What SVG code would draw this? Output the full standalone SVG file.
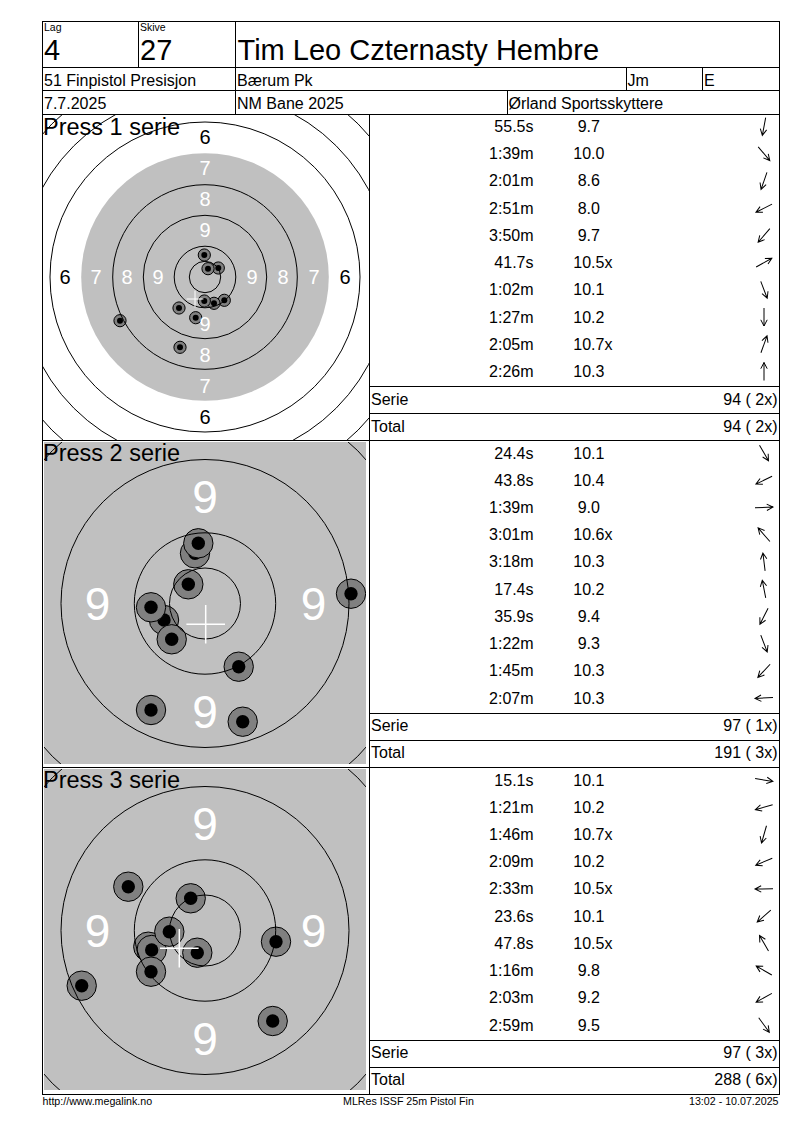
<svg xmlns="http://www.w3.org/2000/svg" xmlns:xlink="http://www.w3.org/1999/xlink" width="800" height="1130" viewBox="0 0 800 1130">
<style>
text{font-family:"Liberation Sans",Arial,sans-serif;fill:#000}
.t16{font-size:16px}
.sm{font-size:10.5px}
.ft{font-size:10.67px}
.big{font-size:29px}
.ttl{font-size:23.5px}
.l1{font-size:20px;text-anchor:middle}
.l2{font-size:46px;text-anchor:middle}
.w{fill:#fff}
.end{text-anchor:end}
.grid{stroke:#000;stroke-width:1;fill:none}
.ring{fill:none;stroke:#000;stroke-width:1}
.sh{fill:#808080;stroke:#000;stroke-width:1}
.cr{stroke:#fff;fill:none}
.arr{fill:none;stroke:#000;stroke-width:1}
</style>
<defs>
<path id="ar" d="M-9,0H9M2.8,-3.2L9,0L2.8,3.2"/>
<g id="s1"><circle r="6.1" class="sh"/><circle r="3" fill="#000"/></g>
<g id="s2"><circle r="14.7" class="sh"/><circle r="6.7" fill="#000"/></g>
<clipPath id="c1"><rect x="43" y="115" width="326" height="325"/></clipPath>
<clipPath id="c2"><rect x="44" y="442" width="322" height="322"/></clipPath>
<clipPath id="c3"><rect x="44" y="769" width="322" height="321"/></clipPath>
</defs>
<rect width="800" height="1130" fill="#fff"/>

<g id="target1" clip-path="url(#c1)">
<circle cx="205" cy="277" r="123.8" fill="#c0c0c0"/>
<use xlink:href="#s1" x="195.7" y="317.7"/>
<use xlink:href="#s1" x="224.3" y="300.3"/>
<use xlink:href="#s1" x="180" y="347.3"/>
<use xlink:href="#s1" x="120" y="320.7"/>
<use xlink:href="#s1" x="179" y="308"/>
<use xlink:href="#s1" x="218.3" y="268"/>
<use xlink:href="#s1" x="214" y="303.3"/>
<use xlink:href="#s1" x="204.3" y="301"/>
<use xlink:href="#s1" x="208" y="268.7"/>
<use xlink:href="#s1" x="204.3" y="255"/>
<g class="ring">
<circle cx="205" cy="277" r="15.7"/><circle cx="205" cy="277" r="30.8"/><circle cx="205" cy="277" r="61.7"/><circle cx="205" cy="277" r="92.3"/>
<circle cx="205" cy="277" r="155"/><circle cx="205" cy="277" r="185.5"/><circle cx="205" cy="277" r="216.5"/>
</g>
<text class="l1" x="205" y="144.2">6</text>
<text class="l1 w" x="205" y="175.2">7</text>
<text class="l1 w" x="205" y="206.2">8</text>
<text class="l1 w" x="205" y="237.2">9</text>
<text class="l1 w" x="205" y="331.2">9</text>
<text class="l1 w" x="205" y="362.2">8</text>
<text class="l1 w" x="205" y="393.2">7</text>
<text class="l1" x="205" y="424.2">6</text>
<text class="l1" x="65" y="284.2">6</text>
<text class="l1 w" x="96" y="284.2">7</text>
<text class="l1 w" x="127" y="284.2">8</text>
<text class="l1 w" x="158" y="284.2">9</text>
<text class="l1 w" x="252" y="284.2">9</text>
<text class="l1 w" x="283" y="284.2">8</text>
<text class="l1 w" x="314" y="284.2">7</text>
<text class="l1" x="345" y="284.2">6</text>
<path class="cr" stroke-width="1" d="M186.6,299H203.4M195,290.6V307.4"/>
<text class="ttl" x="43" y="135">Press 1 serie</text>
</g>

<g id="target2" clip-path="url(#c2)">
<rect x="44" y="442" width="322" height="322" fill="#c0c0c0"/>
<use xlink:href="#s2" x="238.7" y="666.7"/>
<use xlink:href="#s2" x="164" y="620"/>
<use xlink:href="#s2" x="351" y="593.7"/>
<use xlink:href="#s2" x="188.3" y="584.3"/>
<use xlink:href="#s2" x="195" y="553.3"/>
<use xlink:href="#s2" x="198.3" y="543.3"/>
<use xlink:href="#s2" x="151" y="710"/>
<use xlink:href="#s2" x="242.7" y="721.7"/>
<use xlink:href="#s2" x="171.7" y="639.3"/>
<use xlink:href="#s2" x="151" y="607.3"/>
<g class="ring">
<circle cx="205" cy="603.5" r="35.5"/><circle cx="205" cy="603.5" r="70.7"/><circle cx="205" cy="603.5" r="144"/><circle cx="205" cy="603.5" r="216"/>
</g>
<text class="l2 w" x="205" y="512.5">9</text>
<text class="l2 w" x="205" y="727.5">9</text>
<text class="l2 w" x="97.5" y="620">9</text>
<text class="l2 w" x="313.5" y="620">9</text>
<path class="cr" stroke-width="1.5" d="M186.4,624.3H225M205.7,605V643.6"/>
<text class="ttl" x="43" y="461">Press 2 serie</text>
</g>

<g id="target3" clip-path="url(#c3)">
<rect x="44" y="769" width="322" height="321" fill="#c0c0c0"/>
<use xlink:href="#s2" x="276" y="941.7"/>
<use xlink:href="#s2" x="148.3" y="946.7"/>
<use xlink:href="#s2" x="197.3" y="952.7"/>
<use xlink:href="#s2" x="151.7" y="950"/>
<use xlink:href="#s2" x="169.3" y="931.7"/>
<use xlink:href="#s2" x="151" y="971.7"/>
<use xlink:href="#s2" x="190.7" y="898.3"/>
<use xlink:href="#s2" x="128.3" y="886.7"/>
<use xlink:href="#s2" x="81.7" y="985.7"/>
<use xlink:href="#s2" x="272.7" y="1021"/>
<g class="ring">
<circle cx="205" cy="930.5" r="35.5"/><circle cx="205" cy="930.5" r="70.7"/><circle cx="205" cy="930.5" r="144"/><circle cx="205" cy="930.5" r="216"/>
</g>
<text class="l2 w" x="205" y="839.5">9</text>
<text class="l2 w" x="205" y="1054.5">9</text>
<text class="l2 w" x="97.5" y="947">9</text>
<text class="l2 w" x="313.5" y="947">9</text>
<path class="cr" stroke-width="1.5" d="M160,948.3H198.6M179.3,929V967.6"/>
<text class="ttl" x="43" y="787.5">Press 3 serie</text>
</g>

<g id="header">
<text class="sm" x="44" y="31">Lag</text>
<text class="big" x="44" y="60">4</text>
<text class="sm" x="140" y="31">Skive</text>
<text class="big" x="140" y="60">27</text>
<text class="big" x="237.5" y="60">Tim Leo Czternasty Hembre</text>
<text class="t16" x="44" y="86">51 Finpistol Presisjon</text>
<text class="t16" x="237" y="86">Bærum Pk</text>
<text class="t16" x="627.5" y="86">Jm</text>
<text class="t16" x="704" y="86">E</text>
<text class="t16" x="44" y="109.3">7.7.2025</text>
<text class="t16" x="237" y="109.3">NM Bane 2025</text>
<text class="t16" x="508.5" y="109.3">Ørland Sportsskyttere</text>
</g>

<g id="table1" class="t16">
<text class="t16 end" x="533.5" y="132">55.5s</text><text class="t16" x="577.7" y="132">9.7</text>
<text class="t16 end" x="533.5" y="159.2">1:39m</text><text class="t16" x="573.3" y="159.2">10.0</text>
<text class="t16 end" x="533.5" y="186.4">2:01m</text><text class="t16" x="577.7" y="186.4">8.6</text>
<text class="t16 end" x="533.5" y="213.7">2:51m</text><text class="t16" x="577.7" y="213.7">8.0</text>
<text class="t16 end" x="533.5" y="240.9">3:50m</text><text class="t16" x="577.7" y="240.9">9.7</text>
<text class="t16 end" x="533.5" y="268.1">41.7s</text><text class="t16" x="573.3" y="268.1">10.5x</text>
<text class="t16 end" x="533.5" y="295.3">1:02m</text><text class="t16" x="573.3" y="295.3">10.1</text>
<text class="t16 end" x="533.5" y="322.5">1:27m</text><text class="t16" x="573.3" y="322.5">10.2</text>
<text class="t16 end" x="533.5" y="349.8">2:05m</text><text class="t16" x="573.3" y="349.8">10.7x</text>
<text class="t16 end" x="533.5" y="377">2:26m</text><text class="t16" x="573.3" y="377">10.3</text>
<text class="t16" x="371" y="405">Serie</text><text class="t16 end" x="777.5" y="405">94 ( 2x)</text>
<text class="t16" x="371" y="432">Total</text><text class="t16 end" x="777.5" y="432">94 ( 2x)</text>
</g>

<g id="table2">
<text class="t16 end" x="533.5" y="458.5">24.4s</text><text class="t16" x="573.3" y="458.5">10.1</text>
<text class="t16 end" x="533.5" y="485.7">43.8s</text><text class="t16" x="573.3" y="485.7">10.4</text>
<text class="t16 end" x="533.5" y="512.9">1:39m</text><text class="t16" x="577.7" y="512.9">9.0</text>
<text class="t16 end" x="533.5" y="540.2">3:01m</text><text class="t16" x="573.3" y="540.2">10.6x</text>
<text class="t16 end" x="533.5" y="567.4">3:18m</text><text class="t16" x="573.3" y="567.4">10.3</text>
<text class="t16 end" x="533.5" y="594.6">17.4s</text><text class="t16" x="573.3" y="594.6">10.2</text>
<text class="t16 end" x="533.5" y="621.8">35.9s</text><text class="t16" x="577.7" y="621.8">9.4</text>
<text class="t16 end" x="533.5" y="649">1:22m</text><text class="t16" x="577.7" y="649">9.3</text>
<text class="t16 end" x="533.5" y="676.3">1:45m</text><text class="t16" x="573.3" y="676.3">10.3</text>
<text class="t16 end" x="533.5" y="703.5">2:07m</text><text class="t16" x="573.3" y="703.5">10.3</text>
<text class="t16" x="371" y="731">Serie</text><text class="t16 end" x="777.5" y="731">97 ( 1x)</text>
<text class="t16" x="371" y="758">Total</text><text class="t16 end" x="777.5" y="758">191 ( 3x)</text>
</g>

<g id="table3">
<text class="t16 end" x="533.5" y="785.5">15.1s</text><text class="t16" x="573.3" y="785.5">10.1</text>
<text class="t16 end" x="533.5" y="812.7">1:21m</text><text class="t16" x="573.3" y="812.7">10.2</text>
<text class="t16 end" x="533.5" y="839.9">1:46m</text><text class="t16" x="573.3" y="839.9">10.7x</text>
<text class="t16 end" x="533.5" y="867.2">2:09m</text><text class="t16" x="573.3" y="867.2">10.2</text>
<text class="t16 end" x="533.5" y="894.4">2:33m</text><text class="t16" x="573.3" y="894.4">10.5x</text>
<text class="t16 end" x="533.5" y="921.6">23.6s</text><text class="t16" x="573.3" y="921.6">10.1</text>
<text class="t16 end" x="533.5" y="948.8">47.8s</text><text class="t16" x="573.3" y="948.8">10.5x</text>
<text class="t16 end" x="533.5" y="976">1:16m</text><text class="t16" x="577.7" y="976">9.8</text>
<text class="t16 end" x="533.5" y="1003.3">2:03m</text><text class="t16" x="577.7" y="1003.3">9.2</text>
<text class="t16 end" x="533.5" y="1030.5">2:59m</text><text class="t16" x="577.7" y="1030.5">9.5</text>
<text class="t16" x="371" y="1058">Serie</text><text class="t16 end" x="777.5" y="1058">97 ( 3x)</text>
<text class="t16" x="371" y="1085">Total</text><text class="t16 end" x="777.5" y="1085">288 ( 6x)</text>
</g>

<g id="arrows" class="arr">
<use xlink:href="#ar" transform="translate(764,126.5) rotate(100.7)"/>
<use xlink:href="#ar" transform="translate(764,153.7) rotate(49.8)"/>
<use xlink:href="#ar" transform="translate(764,180.9) rotate(109.1)"/>
<use xlink:href="#ar" transform="translate(764,208.2) rotate(153.4)"/>
<use xlink:href="#ar" transform="translate(764,235.4) rotate(130.6)"/>
<use xlink:href="#ar" transform="translate(764,262.6) rotate(-29.2)"/>
<use xlink:href="#ar" transform="translate(764,289.8) rotate(69)"/>
<use xlink:href="#ar" transform="translate(764,317) rotate(90)"/>
<use xlink:href="#ar" transform="translate(764,344.3) rotate(-70.2)"/>
<use xlink:href="#ar" transform="translate(764,371.5) rotate(-90)"/>
<use xlink:href="#ar" transform="translate(764,453) rotate(60)"/>
<use xlink:href="#ar" transform="translate(764,480.2) rotate(154)"/>
<use xlink:href="#ar" transform="translate(764,507.4) rotate(-2)"/>
<use xlink:href="#ar" transform="translate(764,534.7) rotate(-131)"/>
<use xlink:href="#ar" transform="translate(764,561.9) rotate(-97)"/>
<use xlink:href="#ar" transform="translate(764,589.1) rotate(-101)"/>
<use xlink:href="#ar" transform="translate(764,616.3) rotate(117)"/>
<use xlink:href="#ar" transform="translate(764,643.5) rotate(69)"/>
<use xlink:href="#ar" transform="translate(764,670.8) rotate(133)"/>
<use xlink:href="#ar" transform="translate(764,698) rotate(176.5)"/>
<use xlink:href="#ar" transform="translate(764,780) rotate(9)"/>
<use xlink:href="#ar" transform="translate(764,807.2) rotate(164)"/>
<use xlink:href="#ar" transform="translate(764,834.4) rotate(106)"/>
<use xlink:href="#ar" transform="translate(764,861.7) rotate(157)"/>
<use xlink:href="#ar" transform="translate(764,888.9) rotate(179)"/>
<use xlink:href="#ar" transform="translate(764,916.1) rotate(139)"/>
<use xlink:href="#ar" transform="translate(764,943.3) rotate(-120)"/>
<use xlink:href="#ar" transform="translate(764,970.5) rotate(-150)"/>
<use xlink:href="#ar" transform="translate(764,997.8) rotate(151)"/>
<use xlink:href="#ar" transform="translate(764,1025) rotate(54)"/>
</g>

<g id="grid" class="grid">
<rect x="42.5" y="21.5" width="737" height="1073"/>
<path d="M42.5,67.5H779.5M42.5,90.5H779.5M42.5,114.5H779.5M42.5,440.5H779.5M42.5,767.5H779.5"/>
<path d="M138.5,21.5V67.5M235.5,21.5V114.5M626.5,67.5V90.5M702.5,67.5V90.5M507.5,90.5V114.5M369.5,114.5V1094.5"/>
<path d="M369.5,386.5H779.5M369.5,413.5H779.5M369.5,713.5H779.5M369.5,740.5H779.5M369.5,1040.5H779.5M369.5,1067.5H779.5"/>
</g>

<g id="footer">
<text class="ft" x="42.5" y="1104.5">http://www.megalink.no</text>
<text class="ft" x="343" y="1104.5">MLRes ISSF 25m Pistol Fin</text>
<text class="ft end" x="778.5" y="1104.5">13:02 - 10.07.2025</text>
</g>
</svg>
